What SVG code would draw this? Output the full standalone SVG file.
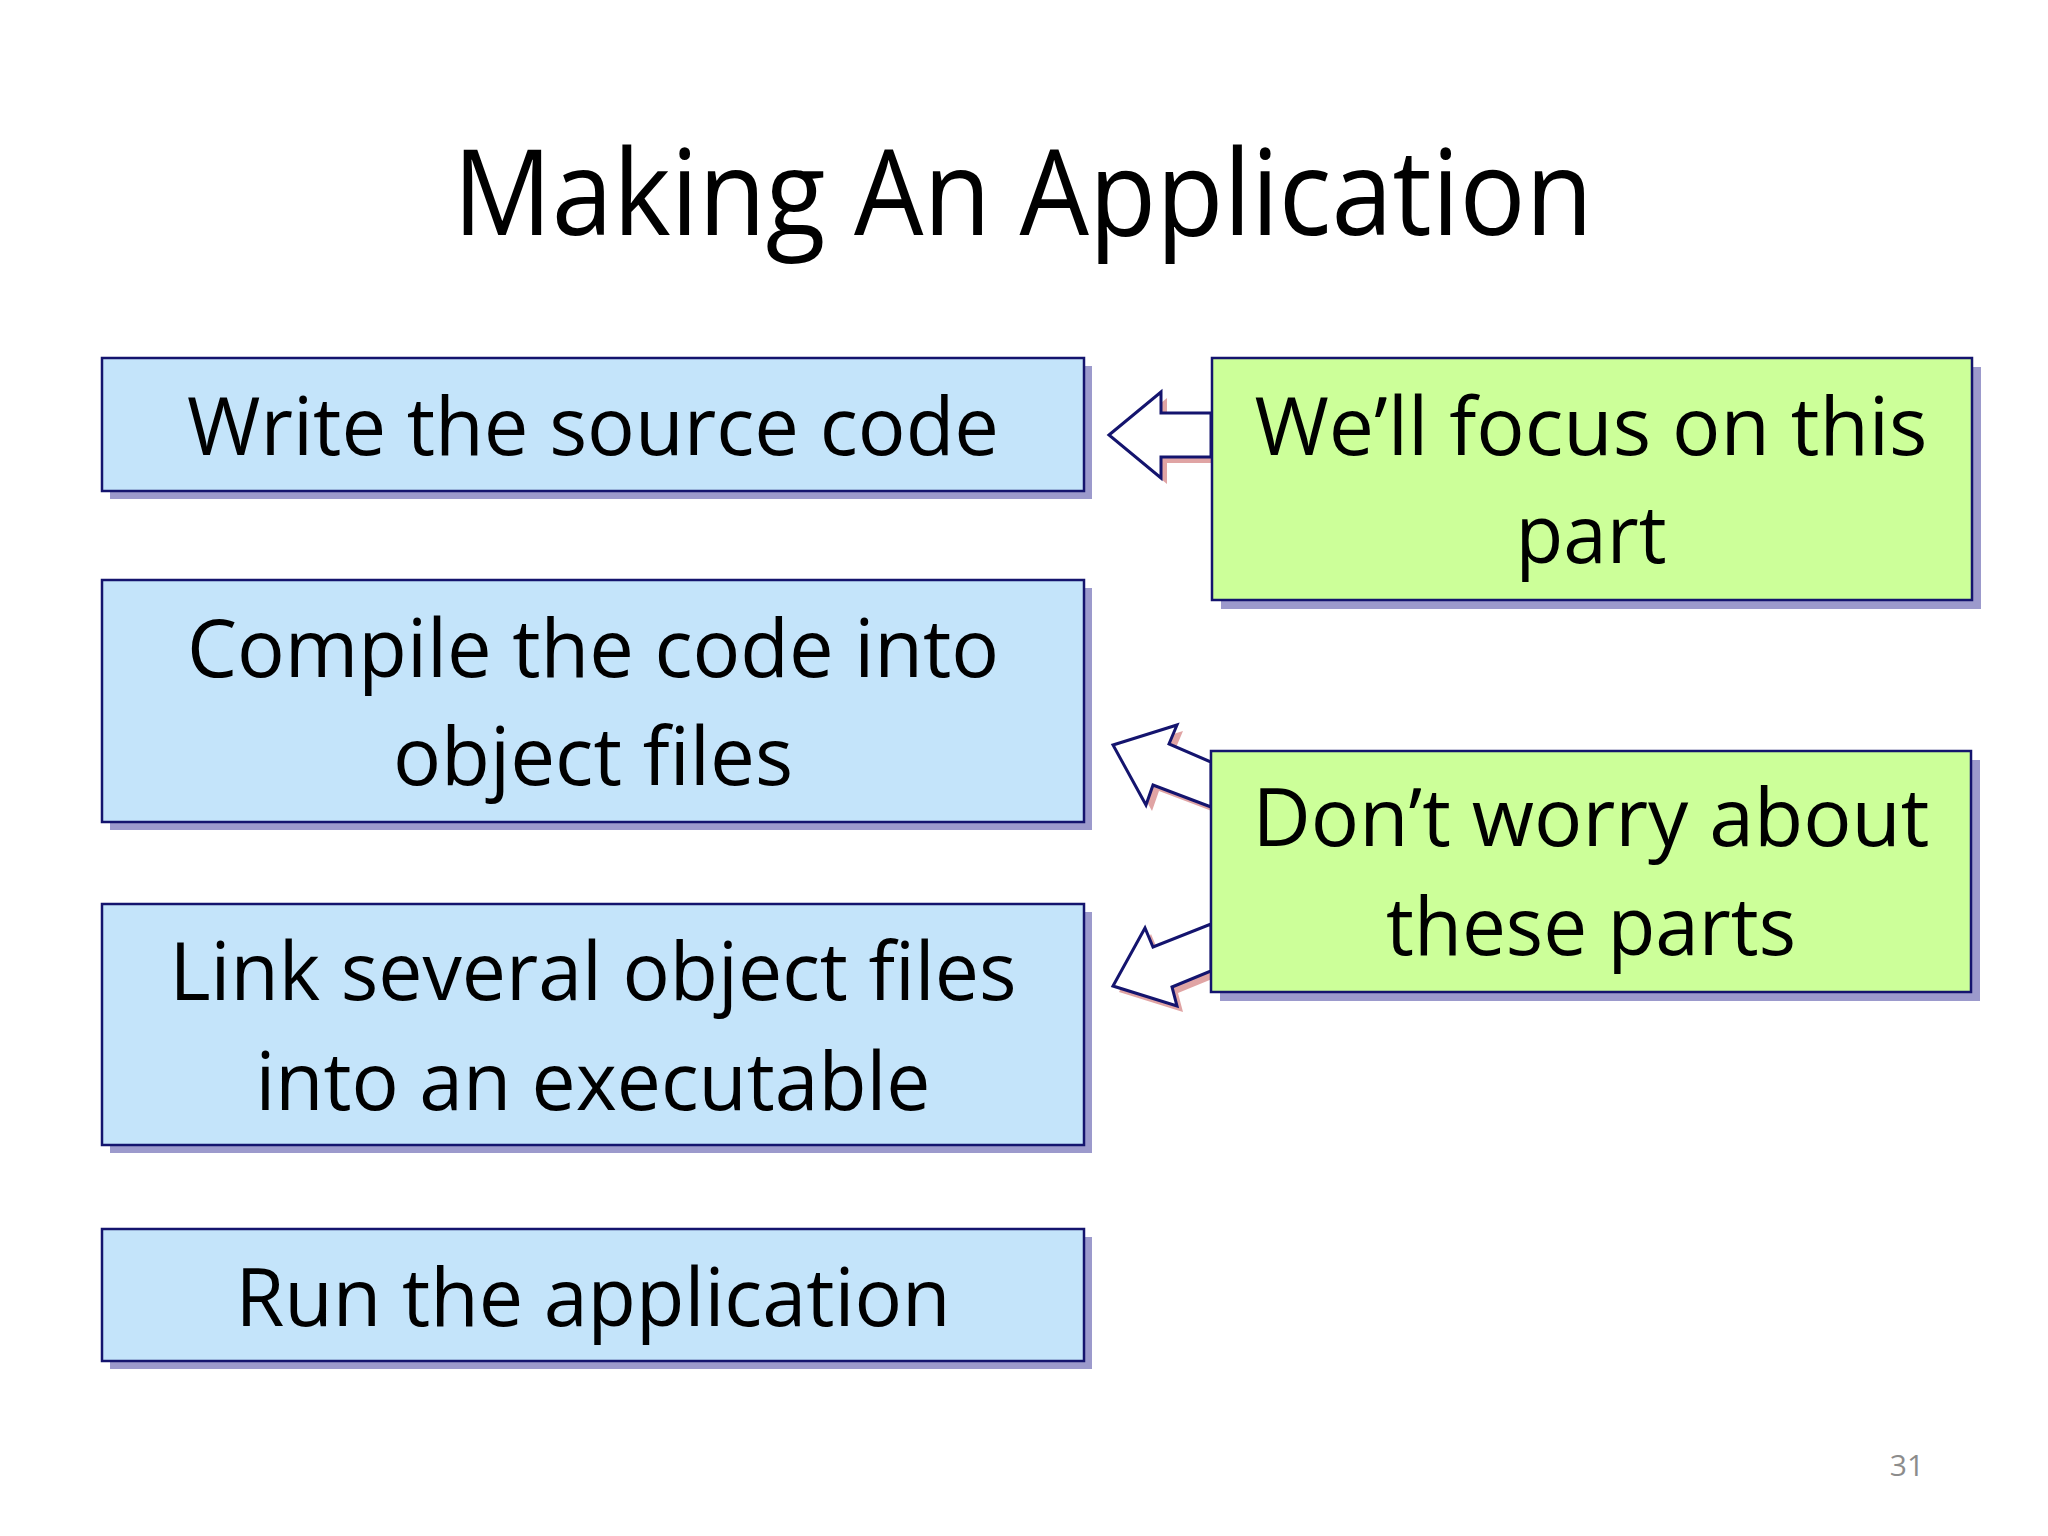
<svg xmlns="http://www.w3.org/2000/svg" width="2048" height="1536" viewBox="0 0 2048 1536">
<style>
.t{font-family:"Open Sans","Noto Sans","Liberation Sans",sans-serif;fill:#000;text-anchor:middle}
.bx{font-size:80px}
.blue{fill:#c4e4fa;stroke:#14146e;stroke-width:2.5}
.green{fill:#ccff99;stroke:#14146e;stroke-width:2.5}
.sh{fill:#9c9acc}
.ash{fill:#e0a4a4}
.arr{fill:#fff;stroke:#14146e;stroke-width:3;stroke-linejoin:miter}
</style>
<rect width="2048" height="1536" fill="#fff"/>
<text class="t" x="1023" y="235" font-size="119" textLength="1140" lengthAdjust="spacingAndGlyphs">Making An Application</text>

<g id="connectors">
  <polygon class="ash" transform="translate(6,6)" points="1109,435 1161,392 1161,413 1211,413 1211,457 1161,457 1161,478"/>
  <polygon class="arr" points="1109,435 1161,392 1161,413 1211,413 1211,457 1161,457 1161,478"/>
  <polygon class="ash" transform="translate(6,6)" points="1113,745 1177,725 1169,744 1211,762 1211,807 1153,785 1146,805"/>
  <polygon class="arr" points="1113,745 1177,725 1169,744 1211,762 1211,807 1153,785 1146,805"/>
  <polygon class="ash" transform="translate(6,6)" points="1113,986 1145,928 1153,947 1211,924 1211,971 1172,987 1177,1006"/>
  <polygon class="arr" points="1113,986 1145,928 1153,947 1211,924 1211,971 1172,987 1177,1006"/>
</g>

<g id="n1">
  <rect class="sh" x="110" y="366" width="982" height="133"/>
  <rect class="blue" x="102" y="358" width="982" height="133"/>
  <text class="t bx" x="593" y="455" textLength="812" lengthAdjust="spacingAndGlyphs">Write the source code</text>
</g>
<g id="n2">
  <rect class="sh" x="110" y="588" width="982" height="242"/>
  <rect class="blue" x="102" y="580" width="982" height="242"/>
  <text class="t bx" x="593" y="677" textLength="812" lengthAdjust="spacingAndGlyphs">Compile the code into</text>
  <text class="t bx" x="593" y="785" textLength="400" lengthAdjust="spacingAndGlyphs">object files</text>
</g>
<g id="n3">
  <rect class="sh" x="110" y="912" width="982" height="241"/>
  <rect class="blue" x="102" y="904" width="982" height="241"/>
  <text class="t bx" x="593" y="1000" textLength="847" lengthAdjust="spacingAndGlyphs">Link several object files</text>
  <text class="t bx" x="593" y="1110" textLength="675" lengthAdjust="spacingAndGlyphs">into an executable</text>
</g>
<g id="n4">
  <rect class="sh" x="110" y="1237" width="982" height="132"/>
  <rect class="blue" x="102" y="1229" width="982" height="132"/>
  <text class="t bx" x="593" y="1326" textLength="715" lengthAdjust="spacingAndGlyphs">Run the application</text>
</g>
<g id="g1">
  <rect class="sh" x="1221" y="367" width="760" height="242"/>
  <rect class="green" x="1212" y="358" width="760" height="242"/>
  <text class="t bx" x="1591" y="455" textLength="673" lengthAdjust="spacingAndGlyphs">We’ll focus on this</text>
  <text class="t bx" x="1591" y="563" textLength="151" lengthAdjust="spacingAndGlyphs">part</text>
</g>
<g id="g2">
  <rect class="sh" x="1220" y="760" width="760" height="241"/>
  <rect class="green" x="1211" y="751" width="760" height="241"/>
  <text class="t bx" x="1591" y="846" textLength="677" lengthAdjust="spacingAndGlyphs">Don’t worry about</text>
  <text class="t bx" x="1591" y="955" textLength="410" lengthAdjust="spacingAndGlyphs">these parts</text>
</g>
<text x="1907" y="1476" font-family="Open Sans, sans-serif" font-size="30" fill="#8c8c8c" text-anchor="middle">31</text>
</svg>
